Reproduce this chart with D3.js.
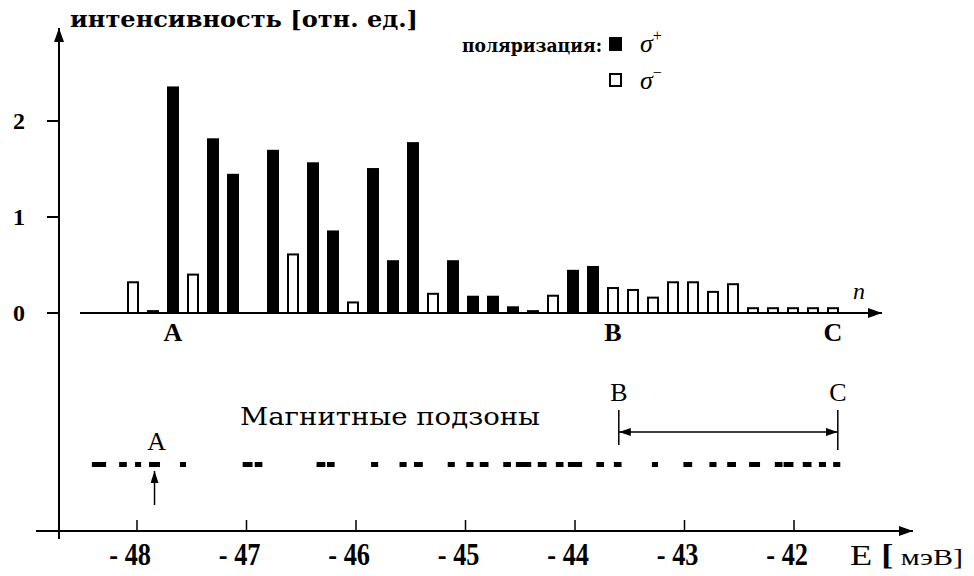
<!DOCTYPE html>
<html>
<head>
<meta charset="utf-8">
<script src="https://cdn.jsdelivr.net/npm/d3@7"></script>
<style>
  body { margin: 0; background: #fff; }
  svg { display: block; }
  .sf { font-family: "Liberation Serif", "Times New Roman", "DejaVu Serif", serif; }
  .wf { font-family: "DejaVu Serif", "Liberation Serif", serif; }
</style>
</head>
<body>
<div id="chart"></div>
<script>
// bars by subband number n (null = no bar)
var nIndex = d3.range(0, 36);
var sigmaPlus = [null, 0.03, 2.36, null, 1.82, 1.45, null, 1.70, null, 1.57, 0.86, null,
  1.51, 0.55, 1.78, null, 0.55, 0.18, 0.18, 0.07, 0.03, null, 0.45, 0.49,
  null, null, null, null, null, null, null, null, null, null, null, null];
var sigmaMinus = [0.32, null, null, 0.40, null, null, null, null, 0.61, null, null, 0.11,
  null, null, null, 0.20, null, null, null, null, null, 0.18, null, null,
  0.26, 0.24, 0.16, 0.32, 0.32, 0.22, 0.30, 0.05, 0.05, 0.05, 0.05, 0.05];
var yTicks = [0, 1, 2];
var topMarks = [{label: "A", n: 2}, {label: "B", n: 24}, {label: "C", n: 35}];

// magnetic subband levels, energy [meV] and level width [meV]
var levelE = [-48.347, -48.128, -47.99, -47.84, -47.58, -46.99, -46.89, -46.32, -46.23,
  -45.83, -45.57, -45.43, -45.13, -44.96, -44.83, -44.62, -44.47, -44.30, -44.14,
  -44.00, -43.77, -43.61, -43.27, -42.97, -42.74, -42.57, -42.36, -42.14, -42.05,
  -41.88, -41.74, -41.61];
var levelW = [0.13, 0.07, 0.055, 0.10, 0.055, 0.09, 0.07, 0.08, 0.07, 0.065, 0.065, 0.08,
  0.065, 0.065, 0.08, 0.07, 0.14, 0.08, 0.07, 0.13, 0.07, 0.07, 0.055, 0.08, 0.065,
  0.08, 0.10, 0.07, 0.09, 0.08, 0.065, 0.065];
var eTicks = [-48, -47, -46, -45, -44, -43, -42];
var eA = -47.84, eB = -43.60, eC = -41.60;

var W = 974, H = 576;
var svg = d3.select("#chart").append("svg").attr("width", W).attr("height", H);

var defs = svg.append("defs");
defs.append("marker").attr("id", "arr")
  .attr("viewBox", "0 0 14 10").attr("refX", 14).attr("refY", 5)
  .attr("markerWidth", 14).attr("markerHeight", 10)
  .attr("markerUnits", "userSpaceOnUse").attr("orient", "auto")
  .append("path").attr("d", "M0,0 L14,5 L0,10 Z").attr("fill", "#000");
defs.append("marker").attr("id", "arrS")
  .attr("viewBox", "0 0 12 8").attr("refX", 12).attr("refY", 4)
  .attr("markerWidth", 12).attr("markerHeight", 8)
  .attr("markerUnits", "userSpaceOnUse").attr("orient", "auto-start-reverse")
  .append("path").attr("d", "M0,0 L12,4 L0,8 Z").attr("fill", "#000");

var x = d3.scaleLinear().domain([0, 35]).range([133, 833]);
var y = d3.scaleLinear().domain([0, 2]).range([313, 121]);
var xE = d3.scaleLinear().domain([-48, -42]).range([137, 794]);

// vertical axis
svg.append("line").attr("x1", 59).attr("x2", 59).attr("y1", 539).attr("y2", 28)
  .attr("stroke", "#000").attr("stroke-width", 2).attr("marker-end", "url(#arr)");

// y ticks
svg.selectAll(".yt").data(yTicks).enter().append("line")
  .attr("x1", 47).attr("x2", 59)
  .attr("y1", function(d) { return y(d); }).attr("y2", function(d) { return y(d); })
  .attr("stroke", "#000").attr("stroke-width", 2);
svg.selectAll(".yl").data(yTicks).enter().append("text")
  .attr("class", "sf")
  .attr("x", 19).attr("y", function(d) { return y(d) + 8; })
  .attr("text-anchor", "middle")
  .style("font-weight", "bold").style("font-size", "24px")
  .text(function(d) { return d; });

// top baseline (n axis)
svg.append("line").attr("x1", 80).attr("x2", 882).attr("y1", y(0)).attr("y2", y(0))
  .attr("stroke", "#000").attr("stroke-width", 2).attr("marker-end", "url(#arr)");
svg.append("text").attr("class", "sf").attr("x", 853).attr("y", 299)
  .style("font-style", "italic").style("font-size", "24px")
  .text("n");

// bars
var plusData = nIndex.map(function(n, i) { return {n: n, v: sigmaPlus[i]}; })
  .filter(function(d) { return d.v != null; });
var minusData = nIndex.map(function(n, i) { return {n: n, v: sigmaMinus[i]}; })
  .filter(function(d) { return d.v != null; });

svg.selectAll(".bp").data(plusData).enter().append("rect")
  .attr("x", function(d) { return x(d.n) - 6; })
  .attr("y", function(d) { return y(d.v); })
  .attr("width", 12)
  .attr("height", function(d) { return y(0) - y(d.v); })
  .attr("fill", "#000");

svg.selectAll(".bm").data(minusData).enter().append("rect")
  .attr("x", function(d) { return x(d.n) - 5; })
  .attr("y", function(d) { return y(d.v); })
  .attr("width", 10)
  .attr("height", function(d) { return y(0) - y(d.v); })
  .attr("fill", "#fff").attr("stroke", "#000").attr("stroke-width", 2);

svg.selectAll(".tm").data(topMarks).enter().append("text")
  .attr("class", "sf")
  .attr("x", function(d) { return x(d.n); }).attr("y", 341)
  .attr("text-anchor", "middle")
  .style("font-weight", "bold").style("font-size", "26px")
  .text(function(d) { return d.label; });

// title
svg.append("text").attr("class", "wf").attr("x", 70).attr("y", 27)
  .style("font-weight", "bold").style("font-size", "22px")
  .attr("textLength", 348).attr("lengthAdjust", "spacingAndGlyphs")
  .text("интенсивность [отн. ед.]");

// legend
svg.append("text").attr("class", "wf").attr("x", 462).attr("y", 52)
  .style("font-weight", "bold").style("font-size", "19px")
  .attr("textLength", 140).attr("lengthAdjust", "spacingAndGlyphs")
  .text("поляризация:");
svg.append("rect").attr("x", 609).attr("y", 37).attr("width", 13).attr("height", 14)
  .attr("fill", "#000");
svg.append("rect").attr("x", 610).attr("y", 74).attr("width", 11).attr("height", 12)
  .attr("fill", "#fff").attr("stroke", "#000").attr("stroke-width", 2);
var s1 = svg.append("text").attr("class", "sf").attr("x", 640).attr("y", 52)
  .style("font-style", "italic").style("font-size", "26px");
s1.append("tspan").text("σ");
s1.append("tspan").attr("dy", -11).style("font-size", "16px").style("font-style", "normal").text("+");
var s2 = svg.append("text").attr("class", "sf").attr("x", 640).attr("y", 89)
  .style("font-style", "italic").style("font-size", "26px");
s2.append("tspan").text("σ");
s2.append("tspan").attr("dy", -11).style("font-size", "16px").style("font-style", "normal").text("−");

// magnetic subbands
svg.append("text").attr("class", "wf").attr("x", 240).attr("y", 425)
  .style("font-size", "24px")
  .attr("textLength", 300).attr("lengthAdjust", "spacingAndGlyphs")
  .text("Магнитные подзоны");

var levels = levelE.map(function(e, i) { return {e: e, w: levelW[i]}; });
svg.selectAll(".lv").data(levels).enter().append("rect")
  .attr("x", function(d) { return xE(d.e - d.w / 2); })
  .attr("width", function(d) { return xE(d.e + d.w / 2) - xE(d.e - d.w / 2); })
  .attr("y", 462).attr("height", 5)
  .attr("fill", "#000");

// A arrow
svg.append("line").attr("x1", xE(eA)).attr("x2", xE(eA)).attr("y1", 505).attr("y2", 471)
  .attr("stroke", "#000").attr("stroke-width", 1.5).attr("marker-end", "url(#arrS)");
svg.append("text").attr("class", "sf").attr("x", xE(eA) + 2).attr("y", 450).attr("text-anchor", "middle")
  .style("font-size", "26px").text("A");

// B - C range
[eB, eC].forEach(function(e, i) {
  svg.append("line").attr("x1", xE(e)).attr("x2", xE(e))
    .attr("y1", 410).attr("y2", i ? 450 : 445)
    .attr("stroke", "#000").attr("stroke-width", 1.5);
});
svg.append("line").attr("x1", xE(eB)).attr("x2", xE(eC)).attr("y1", 432).attr("y2", 432)
  .attr("stroke", "#000").attr("stroke-width", 1.5)
  .attr("marker-start", "url(#arrS)").attr("marker-end", "url(#arrS)");
svg.append("text").attr("class", "sf").attr("x", xE(eB)).attr("y", 401).attr("text-anchor", "middle")
  .style("font-size", "26px").text("B");
svg.append("text").attr("class", "sf").attr("x", xE(eC)).attr("y", 401).attr("text-anchor", "middle")
  .style("font-size", "26px").text("C");

// energy axis
svg.append("line").attr("x1", 36).attr("x2", 913).attr("y1", 531).attr("y2", 531)
  .attr("stroke", "#000").attr("stroke-width", 2).attr("marker-end", "url(#arr)");
svg.selectAll(".et").data(eTicks).enter().append("line")
  .attr("x1", function(d) { return xE(d); }).attr("x2", function(d) { return xE(d); })
  .attr("y1", 520).attr("y2", 531)
  .attr("stroke", "#000").attr("stroke-width", 1.5);
svg.selectAll(".el").data(eTicks).enter().append("text")
  .attr("class", "sf")
  .attr("x", function(d) { return xE(d) + 14; }).attr("y", 565)
  .attr("text-anchor", "end")
  .style("font-weight", "bold").style("font-size", "31px")
  .attr("transform", function(d) { var X = xE(d) + 14; return "translate(" + X + ",565) scale(0.85,1) translate(" + (-X) + ",-565)"; })
  .text(function(d) { return "- " + Math.abs(d); });
var eLab = svg.append("text").attr("class", "sf").attr("x", 850).attr("y", 565)
  .style("font-size", "29px")
  .attr("textLength", 113).attr("lengthAdjust", "spacingAndGlyphs");
eLab.append("tspan").text("E  ");
eLab.append("tspan").style("font-weight", "bold").text("[");
eLab.append("tspan").style("font-size", "24px").text(" мэВ]");
</script>
</body>
</html>
